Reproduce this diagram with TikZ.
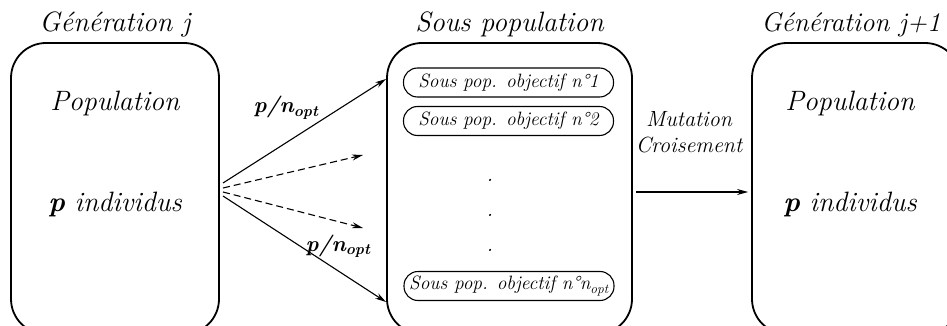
\documentclass[tikz,border=0pt]{standalone}
\usetikzlibrary{arrows.meta}

\tikzset{
  boite/.style={draw, line width=1.8pt, rounded corners=35pt, minimum height=291pt, inner sep=0pt},
  capsule/.style={draw, line width=1.1pt, rounded corners=14pt, minimum width=210pt, minimum height=29pt, inner sep=0pt, font=\fontsize{19.3}{21}\selectfont\itshape},
  grand/.style={font=\fontsize{28}{30}\selectfont\itshape, inner sep=0pt, anchor=base},
  moyen/.style={font=\fontsize{22}{27}\selectfont\itshape, inner sep=0pt, anchor=base},
  fleche/.style={line width=1.1pt, -{Stealth[length=11pt,width=6pt]}},
  tirets/.style={dash pattern=on 7pt off 4pt},
}

\begin{document}
\begin{tikzpicture}[x=1pt,y=-1pt]
    \useasboundingbox (0,0) rectangle (947,326);

    % Generation j
    \node[boite, minimum width=208pt] (genj) at (115,188.5) {};
    \node[grand] (titrej) at (115,32) {Génération j};
    \node[grand] (popj) at (115,111) {Population};
    \node[grand] (indj) at (115,211) {\textbf{p} individus};

    % Sous population
    \node[boite, minimum width=245pt] (sous) at (509.5,188.5) {};
    \node[grand] (titresous) at (509.5,32) {Sous population};
    \node[capsule] (obj1) at (508.5,82.5) {Sous pop. objectif n\textdegree1};
    \node[capsule] (obj2) at (508.5,121) {Sous pop. objectif n\textdegree2};
    \node[capsule] (objn) at (509,286) {Sous pop. objectif n\textdegree n\textsubscript{opt}};
    \foreach \y/\n in {180/a,215/b,250/c}{
      \node[moyen, anchor=center] (point\n) at (490,\y) {.};
    }

    % Generation j+1
    \node[boite, minimum width=208pt] (genk) at (856,188.5) {};
    \node[grand, font=\fontsize{27}{30}\selectfont\itshape] (titrek) at (851,32) {Génération j+1};
    \node[grand] (popk) at (850,111) {Population};
    \node[grand] (indk) at (850,211) {\textbf{p} individus};

    % repartition
    \coordinate (dep1) at (223,183);
    \coordinate (dep2) at (223,188);
    \coordinate (dep3) at (223,192);
    \coordinate (dep4) at (223,196);
    \coordinate (arr1) at (386,79);
    \coordinate (arr2) at (363,155);
    \coordinate (arr3) at (363,228);
    \coordinate (arr4) at (386,302);
    \draw[fleche] (dep1) -- (arr1);
    \draw[fleche, tirets] (dep2) -- (arr2);
    \draw[fleche, tirets] (dep3) -- (arr3);
    \draw[fleche] (dep4) -- (arr4);
    \node[moyen] (ratio1) at (286,113) {\textbf{p/n}\textsubscript{\textbf{opt}}};
    \node[moyen] (ratio2) at (338,251) {\textbf{p/n}\textsubscript{\textbf{opt}}};

    % operateurs
    \draw[fleche, shorten <=3pt, shorten >=3pt] ([yshift=-3.5pt]sous.east) -- ([yshift=-3.5pt]genk.west);
    \node[moyen, align=center] (operateurs) at (689,153) {Mutation\\Croisement};
\end{tikzpicture}
\end{document}
